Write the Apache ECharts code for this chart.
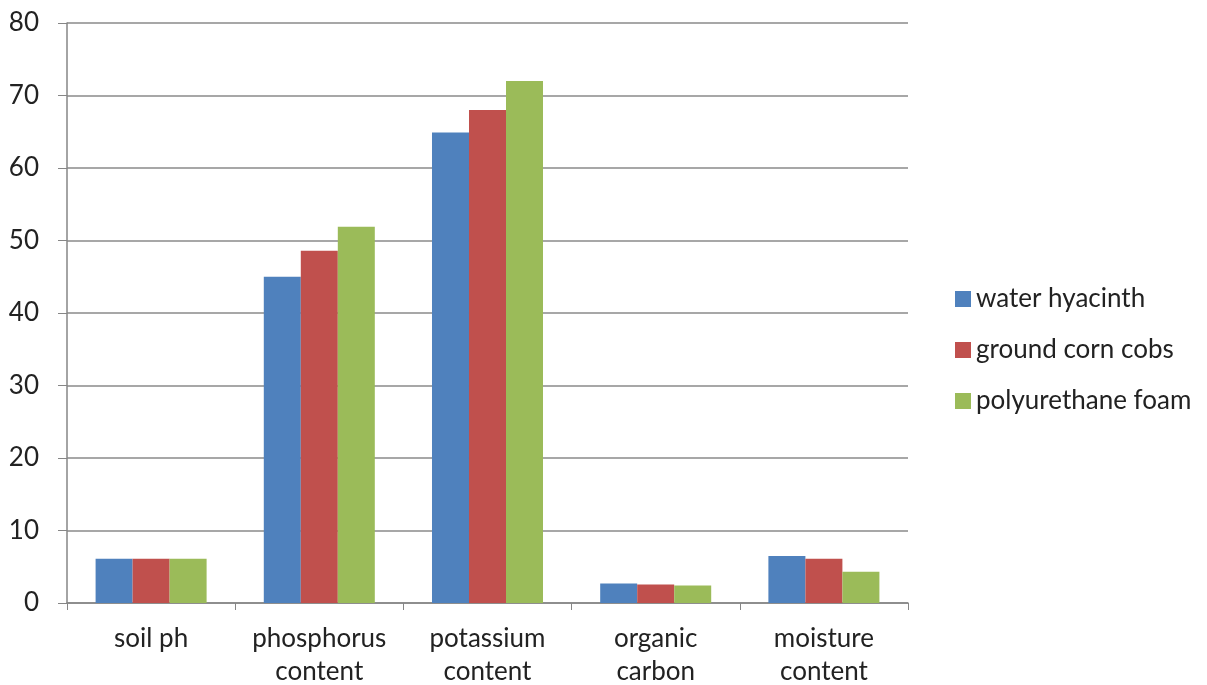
<!DOCTYPE html>
<html>
<head>
<meta charset="utf-8">
<script src="https://cdn.jsdelivr.net/npm/echarts@6/dist/echarts.min.js"></script>
<style>
  html, body { margin: 0; padding: 0; background: #fff; }
  #chart { width: 1207px; height: 685px; }
</style>
</head>
<body>
<div id="chart"></div>
<script>
// data
var categories = ['soil ph', 'phosphorus\ncontent', 'potassium\ncontent', 'organic\ncarbon', 'moisture\ncontent']
var waterHyacinth = [6.1, 45, 64.9, 2.7, 6.5]
var groundCornCobs = [6.1, 48.6, 68, 2.55, 6.1]
var polyurethaneFoam = [6.1, 51.9, 72, 2.4, 4.3]
var yTicks = [0, 10, 20, 30, 40, 50, 60, 70, 80]

var font = 'Lato, "Open Sans", sans-serif'
var chart = echarts.init(document.getElementById('chart'))

function bar(name, data, color) {
  return {
    name: name,
    type: 'bar',
    data: data,
    barGap: '0%',
    barCategoryGap: '34%',
    itemStyle: { color: color },
    animation: false
  }
}

chart.setOption({
  animation: false,
  textStyle: { fontFamily: font },
  grid: { left: 67, right: 299, top: 23, bottom: 82, containLabel: false, outerBoundsMode: 'none' },
  legend: {
    orient: 'vertical',
    left: 950,
    top: 281,
    itemWidth: 16,
    itemHeight: 16,
    itemGap: 25,
    icon: 'rect',
    textStyle: { fontSize: 26, color: '#222', fontFamily: font },
    data: ['water hyacinth', 'ground corn cobs', 'polyurethane foam']
  },
  xAxis: {
    type: 'category',
    data: categories,
    axisLine: { lineStyle: { color: '#868686', width: 1.5 } },
    axisTick: { show: true, length: 7, alignWithLabel: false, lineStyle: { color: '#868686' } },
    axisLabel: { interval: 0, fontSize: 26, color: '#222', lineHeight: 33, margin: 19, fontFamily: font }
  },
  yAxis: {
    type: 'value',
    min: yTicks[0],
    max: yTicks[yTicks.length - 1],
    interval: 10,
    axisLine: { show: true, lineStyle: { color: '#868686', width: 1.5 } },
    axisTick: { show: true, length: 9, lineStyle: { color: '#868686' } },
    axisLabel: { fontSize: 26, color: '#222', margin: 28, fontFamily: font },
    splitLine: { lineStyle: { color: '#8a8a8a', width: 1.5 } }
  },
  series: [
    bar('water hyacinth', waterHyacinth, '#4F81BD'),
    bar('ground corn cobs', groundCornCobs, '#C0504D'),
    bar('polyurethane foam', polyurethaneFoam, '#9BBB59')
  ]
})
</script>
</body>
</html>
